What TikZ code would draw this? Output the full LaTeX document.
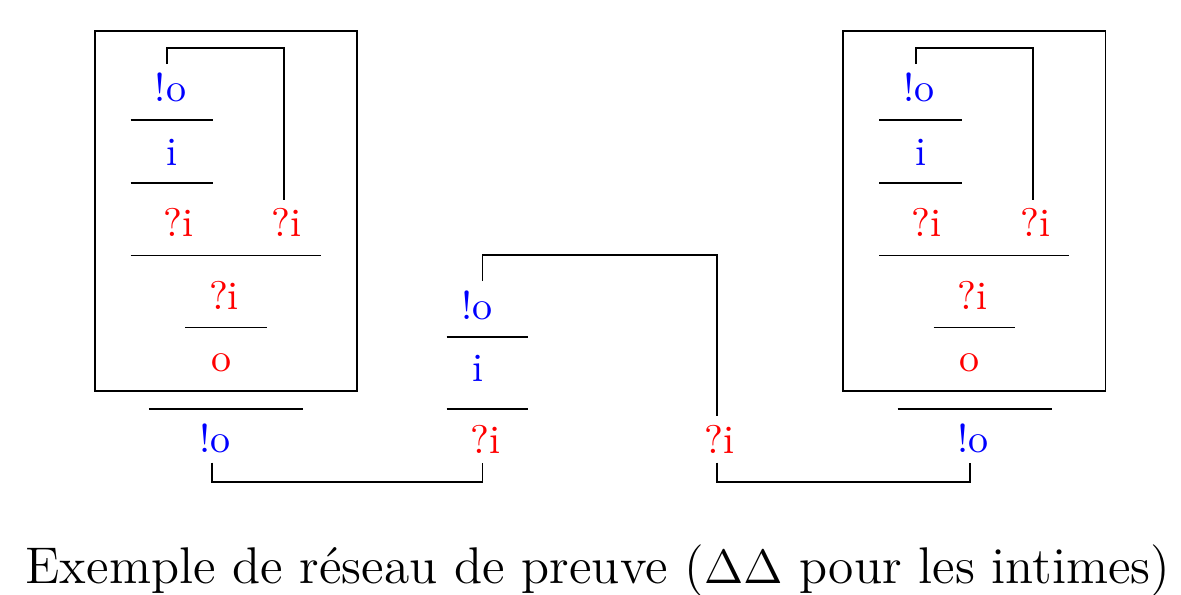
\documentclass[tikz,border=0pt]{standalone}
\usepackage{xcolor}
\usepackage{tikz}

\tikzset{
  lab/.style={anchor=base, inner sep=2.3pt, outer sep=0pt},
  plusf/.style={lab, blue},
  minusf/.style={lab, red},
}

\begin{document}
\begin{tikzpicture}
    \useasboundingbox (0,0) rectangle (10.379,5.229);

    % Left box
    \draw (0.835,1.793) rectangle (3.137,4.956);
    \node[plusf] (Lbang) at (1.498,4.333) {!o};
    \draw (1.149,4.174) -- (1.869,4.174);
    \node[plusf] (Li) at (1.509,3.773) {i};
    \draw (1.149,3.621) -- (1.869,3.621);
    \node[minusf] (Lq1) at (1.571,3.146) {?i};
    \node[minusf] (Lq2) at (2.522,3.146) {?i};
    \draw (1.149,2.982) -- (2.818,2.982);
    \node[minusf] (Lq3) at (1.969,2.513) {?i};
    \draw (1.628,2.349) -- (2.344,2.349);
    \node[minusf] (Lo) at (1.945,1.962) {o};
    \draw (1.309,1.637) -- (2.660,1.637);
    \node[plusf] (Lout) at (1.889,1.248) {!o};
    \draw ([xshift=-0.8pt]Lbang.north) -- ++(0,0.14) -| ([xshift=-0.7pt]Lq2.north);

    % Middle
    \node[plusf] (Mbang) at (4.192,2.425) {!o};
    \draw (3.926,2.267) -- (4.643,2.267);
    \node[plusf] (Mi) at (4.203,1.874) {i};
    \draw (3.926,1.632) -- (4.643,1.632);
    \node[minusf] (Mq) at (4.265,1.245) {?i};
    \node[minusf] (Nq) at (6.327,1.245) {?i};
    \draw ([xshift=1.4pt]Mbang.north) -- ++(0,0.23) -| ([xshift=-0.7pt]Nq.north);
    \draw ([xshift=-0.8pt]Lout.south) -- ++(0,-0.17) -| ([xshift=-0.7pt]Mq.south);

    % Right box
    \draw (7.411,1.793) rectangle (9.717,4.956);
    \node[plusf] (Rbang) at (8.079,4.333) {!o};
    \draw (7.727,4.174) -- (8.451,4.174);
    \node[plusf] (Ri) at (8.091,3.773) {i};
    \draw (7.727,3.621) -- (8.451,3.621);
    \node[minusf] (Rq1) at (8.146,3.146) {?i};
    \node[minusf] (Rq2) at (9.103,3.146) {?i};
    \draw (7.727,2.982) -- (9.397,2.982);
    \node[minusf] (Rq3) at (8.546,2.513) {?i};
    \draw (8.205,2.349) -- (8.922,2.349);
    \node[minusf] (Ro) at (8.522,1.962) {o};
    \draw (7.889,1.637) -- (9.242,1.637);
    \node[plusf] (Rout) at (8.553,1.248) {!o};
    \draw ([xshift=-0.8pt]Rbang.north) -- ++(0,0.14) -| ([xshift=-0.7pt]Rq2.north);
    \draw ([xshift=-0.7pt]Nq.south) -- ++(0,-0.17) -| ([xshift=-0.8pt]Rout.south);

    % Caption
    \node[anchor=base, inner sep=0pt, font=\fontsize{12.9pt}{15pt}\selectfont] (caption) at (5.255,0.097)
        {Exemple de réseau de preuve ($\Delta\Delta$ pour les intimes)};
\end{tikzpicture}
\end{document}
